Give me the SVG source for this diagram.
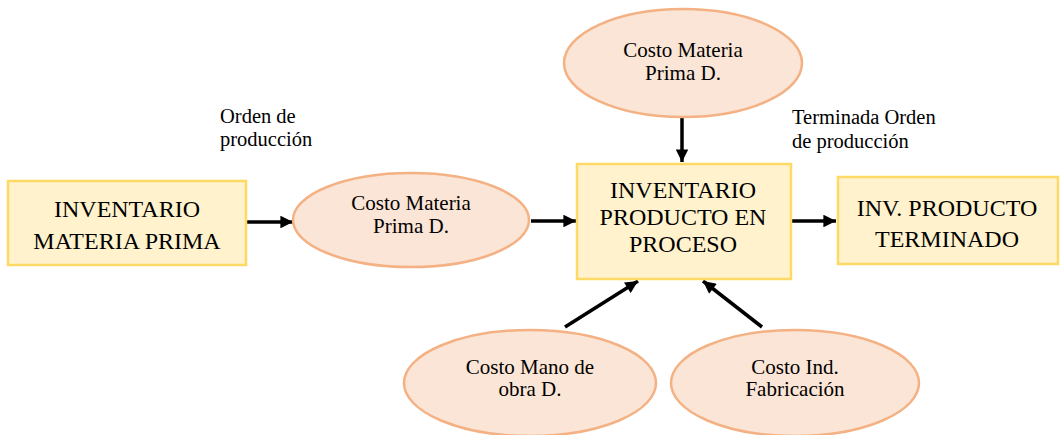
<svg xmlns="http://www.w3.org/2000/svg" width="1060" height="435" viewBox="0 0 1060 435">
<style>
.box{fill:#FFF2CC;stroke:#FFD966;stroke-width:2.5}
.ell{fill:#FBE5D6;stroke:#F4B183;stroke-width:2.5}
text{font-family:'Liberation Serif','Times New Roman',Times,serif;fill:#000}
.bt{font-size:24px;text-anchor:middle}
.et{font-size:21px;text-anchor:middle}
.lt{font-size:20.5px}
.con{stroke:#000;stroke-width:3.5;fill:none;marker-end:url(#ah)}
</style>
<defs>
<marker id="ah" viewBox="0 0 10 10" refX="10" refY="5" markerWidth="4" markerHeight="3.6" markerUnits="strokeWidth" orient="auto">
<path d="M0,0 L10,5 L0,10 z" fill="#000"/>
</marker>
</defs>
<rect width="1060" height="435" fill="#fff"/>
<g id="connectors">
<line class="con" x1="246" y1="222" x2="293" y2="222"/>
<line class="con" x1="531" y1="221" x2="576" y2="221"/>
<line class="con" x1="682" y1="118" x2="682" y2="162"/>
<line class="con" x1="791" y1="221" x2="836" y2="221"/>
<line class="con" x1="565" y1="327" x2="638" y2="281"/>
<line class="con" x1="762" y1="327" x2="703" y2="281"/>
</g>
<g id="inv-materia-prima">
<rect class="box" x="8" y="181" width="238" height="84"/>
<text class="bt" x="127" y="217">INVENTARIO</text>
<text class="bt" x="127" y="249">MATERIA PRIMA</text>
</g>
<g id="costo-mp-1">
<ellipse class="ell" cx="411" cy="220" rx="118" ry="47"/>
<text class="et" x="411" y="210">Costo Materia</text>
<text class="et" x="411" y="233">Prima D.</text>
</g>
<g id="inv-producto-proceso">
<rect class="box" x="577" y="164" width="214" height="115"/>
<text class="bt" x="683" y="198">INVENTARIO</text>
<text class="bt" x="683" y="225">PRODUCTO EN</text>
<text class="bt" x="683" y="252">PROCESO</text>
</g>
<g id="costo-mp-2">
<ellipse class="ell" cx="683" cy="63" rx="119" ry="54"/>
<text class="et" x="683" y="57">Costo Materia</text>
<text class="et" x="683" y="80">Prima D.</text>
</g>
<g id="inv-producto-terminado">
<rect class="box" x="838" y="177" width="220" height="87"/>
<text class="bt" x="947" y="216">INV. PRODUCTO</text>
<text class="bt" x="947" y="247">TERMINADO</text>
</g>
<g id="costo-mano-obra">
<ellipse class="ell" cx="530" cy="383" rx="126" ry="53"/>
<text class="et" x="530" y="374">Costo Mano de</text>
<text class="et" x="530" y="396">obra D.</text>
</g>
<g id="costo-ind-fabricacion">
<ellipse class="ell" cx="795" cy="383" rx="124" ry="53"/>
<text class="et" x="795" y="374">Costo Ind.</text>
<text class="et" x="795" y="396">Fabricación</text>
</g>
<g id="labels">
<text class="lt" x="220" y="123">Orden de</text>
<text class="lt" x="220" y="146">producción</text>
<text class="lt" x="792" y="124">Terminada Orden</text>
<text class="lt" x="792" y="148">de producción</text>
</g>
</svg>
